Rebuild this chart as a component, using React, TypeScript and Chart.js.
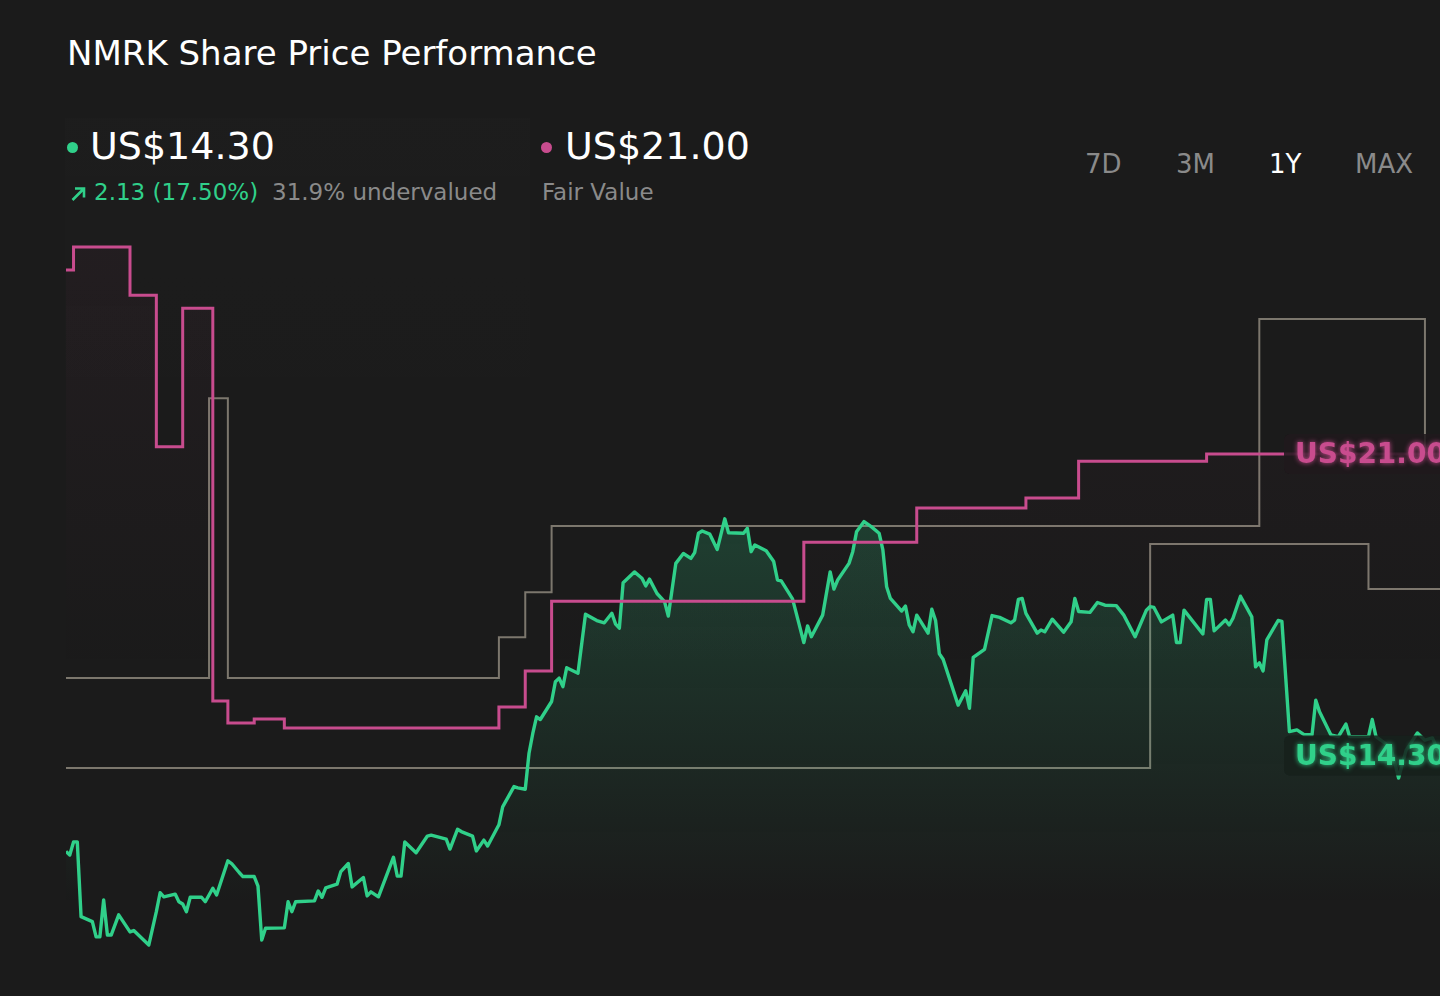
import React, { useEffect, useRef } from 'react';
import { Chart, registerables } from 'chart.js';

Chart.register(...registerables);

// --- data: x is the calendar day of the 1Y window (0 = one year ago) ---
const priceDays = [
  0, 1, 2, 3, 4, 7, 8, 9, 10, 11, 12, 14, 17, 18, 22, 24, 25, 26, 29, 30,
  31, 32, 33, 36, 37, 38, 39, 40, 43, 44, 46, 47, 50, 51, 52, 53, 58, 59, 60, 61,
  66, 67, 68, 69, 72, 73, 75, 76, 79, 80, 81, 83, 87, 88, 89, 90, 93, 96, 97, 101,
  102, 104, 105, 108, 109, 111, 112, 115, 116, 117, 119, 120, 122, 123, 124, 125, 126, 129, 130, 131,
  132, 133, 136, 138, 141, 143, 145, 146, 147, 148, 151, 153, 154, 155, 157, 159, 160, 162, 164, 166,
  167, 168, 169, 171, 173, 175, 176, 180, 181, 182, 183, 186, 188, 189, 190, 193, 194, 196, 197, 198,
  201, 203, 204, 205, 208, 209, 210, 212, 214, 216, 217, 218, 219, 222, 223, 224, 225, 226, 229, 230,
  231, 232, 233, 237, 239, 240, 241, 244, 246, 248, 251, 252, 253, 254, 255, 258, 259, 260, 262, 265,
  267, 268, 269, 272, 274, 276, 279, 281, 284, 287, 288, 289, 291, 294, 295, 296, 297, 302, 303, 304,
  305, 308, 309, 310, 312, 315, 316, 317, 318, 319, 322, 323, 325, 327, 329, 331, 332, 333, 336, 338,
  340, 341, 346, 347, 348, 350, 352, 354, 356, 359, 361, 363, 365,
];
const priceValues = [
  12.17, 12.09, 12.38, 12.38, 10.72, 10.61, 10.27, 10.27, 11.09, 10.31, 10.31, 10.76, 10.38, 10.41, 10.09, 10.83, 11.25, 11.16, 11.22, 11.05,
  11.0, 10.83, 11.15, 11.15, 11.05, 11.2, 11.35, 11.2, 11.96, 11.9, 11.7, 11.61, 11.61, 11.4, 10.2, 10.46, 10.47, 11.05, 10.83, 11.05,
  11.07, 11.29, 11.15, 11.36, 11.44, 11.72, 11.9, 11.38, 11.59, 11.18, 11.27, 11.16, 12.04, 11.62, 11.62, 12.38, 12.14, 12.51, 12.53, 12.44,
  12.22, 12.66, 12.61, 12.51, 12.18, 12.42, 12.29, 12.76, 13.16, 13.31, 13.61, 13.58, 13.55, 14.35, 14.79, 15.16, 15.1, 15.5, 15.94, 16.02,
  15.83, 16.25, 16.13, 17.44, 17.3, 17.25, 17.46, 17.22, 17.13, 18.14, 18.38, 18.24, 18.07, 18.22, 17.9, 17.72, 17.4, 18.57, 18.79, 18.68,
  18.81, 19.24, 19.29, 19.22, 18.88, 19.56, 19.25, 19.24, 19.35, 18.83, 18.98, 18.85, 18.61, 18.2, 18.18, 17.78, 17.46, 16.81, 17.18, 16.94,
  17.42, 18.38, 18.0, 18.2, 18.57, 18.83, 19.27, 19.5, 19.38, 19.24, 18.87, 18.05, 17.79, 17.51, 17.62, 17.2, 17.05, 17.42, 17.02, 17.55,
  17.3, 16.56, 16.44, 15.42, 15.74, 15.35, 16.48, 16.66, 17.41, 17.37, 17.25, 17.31, 17.77, 17.79, 17.46, 17.02, 17.09, 17.05, 17.33, 17.04,
  17.27, 17.79, 17.5, 17.48, 17.7, 17.64, 17.63, 17.42, 16.94, 17.53, 17.61, 17.59, 17.27, 17.42, 16.81, 16.81, 17.53, 17.0, 17.77, 17.77,
  17.07, 17.31, 17.2, 17.35, 17.84, 17.38, 16.27, 16.36, 16.18, 16.87, 17.3, 17.28, 14.83, 14.87, 14.76, 14.76, 15.53, 15.27, 14.76, 14.72,
  15.0, 14.72, 14.72, 15.1, 14.72, 14.6, 14.47, 13.8, 14.42, 14.8, 14.64, 14.69, 14.3,
];

// fair value estimate, holds from each day until the next change
const fairValueDays = [0, 2, 17, 24, 31, 39, 43, 50, 58, 115, 122, 129, 196, 226, 255, 269, 303, 365];
const fairValues = [25.09, 25.6, 24.53, 21.16, 24.24, 15.51, 15.02, 15.11, 14.91, 15.38, 16.18, 17.73, 19.04, 19.8, 20.02, 20.84, 21.0, 21.0];

// analyst price targets (high / low)
const highTargetDays = [0, 38, 43, 115, 122, 129, 317, 361, 365];
const highTargets = [16.02, 22.24, 16.02, 16.93, 17.93, 19.4, 24.0, 21.0, 21.0];
const lowTargetDays = [0, 288, 346, 365];
const lowTargets = [14.02, 19.0, 18.0, 18.0];

const ranges = ['7D', '3M', '1Y', 'MAX'];
const activeRange = '1Y';

const GREEN = 'rgb(48,208,138)';
const PINK = 'rgb(200,76,142)';
const GREY = 'rgb(124,119,109)';
const BG = '#1b1b1b';
const MUTED = 'rgb(138,138,138)';
const FONT = '"DejaVu Sans", Verdana, sans-serif';

const toPoints = (xs: number[], ys: number[]) => xs.map((x, i) => ({ x, y: ys[i] }));

const lastPrice = priceValues[priceValues.length - 1];
const lastFair = fairValues[fairValues.length - 1];

// end-of-line value tags
const endLabels = {
  id: 'endLabels',
  afterDatasetsDraw(chart: any) {
    const { ctx, chartArea, scales } = chart;
    const tags: [number, string, string][] = [
      [lastFair, PINK, 'rgba(200,76,142,0.05)'],
      [lastPrice, GREEN, 'rgba(48,208,138,0.05)'],
    ];
    tags.forEach(([value, color, tint]) => {
      const y = scales.y.getPixelForValue(value);
      const left = chartArea.right - 156;
      ctx.save();
      ctx.beginPath();
      ctx.roundRect(left, y - 20, 176, 40, 6);
      ctx.fillStyle = 'rgba(22,22,22,0.86)';
      ctx.fill();
      ctx.fillStyle = tint;
      ctx.fill();
      ctx.font = `bold 28px ${FONT}`;
      ctx.fillStyle = color;
      ctx.shadowColor = color;
      ctx.shadowBlur = 5;
      ctx.textBaseline = 'alphabetic';
      ctx.fillText('US$' + value.toFixed(2), left + 11, y + 9);
      ctx.restore();
    });
  },
};

function PriceChart() {
  const canvasRef = useRef<HTMLCanvasElement>(null);

  useEffect(() => {
    const ctx = canvasRef.current?.getContext('2d');
    if (!ctx) return;

    const chart = new Chart(ctx, {
      type: 'line',
      data: {
        datasets: [
          {
            label: 'Fair Value',
            data: toPoints(fairValueDays, fairValues),
            stepped: true,
            borderColor: PINK,
            borderWidth: 3,
            fill: 'start',
            backgroundColor: (c: any) => {
              const { chart: ch } = c;
              if (!ch.chartArea) return 'rgba(0,0,0,0)';
              const y = ch.scales.y;
              const g = ch.ctx.createLinearGradient(0, y.getPixelForValue(25.6), 0, y.getPixelForValue(16));
              g.addColorStop(0, 'rgba(200,76,142,0.045)');
              g.addColorStop(1, 'rgba(200,76,142,0)');
              return g;
            },
            pointRadius: 0,
            order: 0,
          },
          {
            label: 'Share Price',
            data: toPoints(priceDays, priceValues),
            borderColor: GREEN,
            borderWidth: 3.4,
            borderJoinStyle: 'round',
            tension: 0,
            fill: 'start',
            backgroundColor: (c: any) => {
              const { chart: ch } = c;
              if (!ch.chartArea) return 'rgba(0,0,0,0)';
              const y = ch.scales.y;
              const g = ch.ctx.createLinearGradient(0, y.getPixelForValue(19.6), 0, y.getPixelForValue(11));
              g.addColorStop(0, 'rgba(48,208,138,0.2)');
              g.addColorStop(1, 'rgba(48,208,138,0)');
              return g;
            },
            pointRadius: 0,
            order: 1,
          },
          {
            label: 'High target',
            data: toPoints(highTargetDays, highTargets),
            stepped: true,
            borderColor: GREY,
            borderWidth: 2,
            fill: false,
            pointRadius: 0,
            order: 2,
          },
          {
            label: 'Low target',
            data: toPoints(lowTargetDays, lowTargets),
            stepped: true,
            borderColor: GREY,
            borderWidth: 2,
            fill: false,
            pointRadius: 0,
            order: 3,
          },
        ],
      },
      options: {
        animation: false,
        responsive: true,
        maintainAspectRatio: false,
        layout: { padding: 0 },
        plugins: { legend: { display: false }, tooltip: { enabled: false } },
        scales: {
          x: { type: 'linear', display: false, min: 0, max: 365 },
          y: { display: false, min: 8.956, max: 25.978 },
        },
      },
      plugins: [endLabels],
    });

    return () => chart.destroy();
  }, []);

  return <canvas ref={canvasRef} />;
}

export default function App() {
  useEffect(() => {
    document.body.style.margin = '0';
    document.body.style.background = BG;
  }, []);

  const text = (extra: React.CSSProperties): React.CSSProperties => ({
    position: 'absolute',
    lineHeight: 1,
    whiteSpace: 'nowrap',
    fontFamily: FONT,
    ...extra,
  });

  return (
    <div style={{ position: 'fixed', left: 0, top: 0, width: 1440, height: 996, background: BG, overflow: 'hidden' }}>
      {/* faint header panel */}
      <div
        style={{
          position: 'absolute', left: 65, top: 118, width: 465, height: 360,
          background: 'linear-gradient(to bottom, rgba(255,255,255,0.008), rgba(255,255,255,0))',
        }}
      />

      <div style={text({ left: 67, top: 36, fontSize: 34, color: '#fff' })}>NMRK Share Price Performance</div>

      <div style={{ position: 'absolute', left: 67, top: 142, width: 11, height: 11, borderRadius: '50%', background: GREEN }} />
      <div style={text({ left: 90, top: 127, fontSize: 38, color: '#fff' })}>US$14.30</div>
      <svg style={{ position: 'absolute', left: 70, top: 186 }} width="17" height="16" viewBox="0 0 17 16">
        <path d="M2.5 14 L14 2.5 M5 2.5 H14 V11.5" stroke={GREEN} strokeWidth="2.6" fill="none" />
      </svg>
      <div style={text({ left: 94, top: 181, fontSize: 23, color: GREEN })}>2.13 (17.50%)</div>
      <div style={text({ left: 272, top: 181, fontSize: 23, color: MUTED })}>31.9% undervalued</div>

      <div style={{ position: 'absolute', left: 541, top: 142, width: 11, height: 11, borderRadius: '50%', background: PINK }} />
      <div style={text({ left: 565, top: 127, fontSize: 38, color: '#fff' })}>US$21.00</div>
      <div style={text({ left: 542, top: 181, fontSize: 23, color: MUTED })}>Fair Value</div>

      {ranges.map((r, i) => (
        <div
          key={r}
          style={text({ left: [1085, 1176, 1269, 1355][i], top: 151, fontSize: 26, color: r === activeRange ? '#fff' : MUTED })}
        >
          {r}
        </div>
      ))}

      <div style={{ position: 'absolute', left: 66, top: 230, width: 1374, height: 766 }}>
        <PriceChart />
      </div>
    </div>
  );
}
